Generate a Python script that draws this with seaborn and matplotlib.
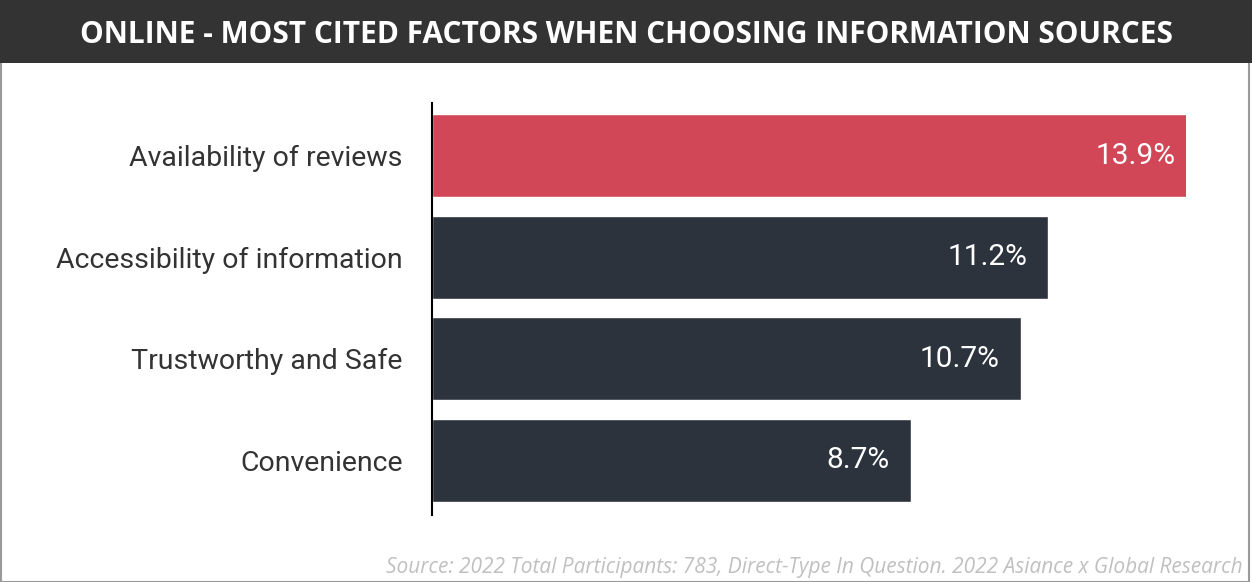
import matplotlib
matplotlib.use("Agg")
import matplotlib.pyplot as plt
import seaborn as sns
import pandas as pd
from matplotlib.patches import Rectangle

categories = ["Availability of reviews", "Accessibility of information",
              "Trustworthy and Safe", "Convenience"]
values = [13.9, 11.2, 10.7, 8.7]
bar_colors = ["#D14757", "#2C333D", "#2C333D", "#2C333D"]
value_labels = ["13.9%", "11.2%", "10.7%", "8.7%"]
title = "ONLINE - MOST CITED FACTORS WHEN CHOOSING INFORMATION SOURCES"
source = "Source: 2022 Total Participants: 783, Direct-Type In Question. 2022 Asiance x Global Research"

sns.set_theme(style="white")
plt.rcParams['font.family'] = ['Roboto', 'DejaVu Sans']

W, H = 1252, 582
fig = plt.figure(figsize=(W / 100, H / 100), dpi=100)
fig.patch.set_facecolor("white")

# border and title bar
fig.add_artist(Rectangle((0.5 / W, 0.5 / H), 1 - 3.5 / W, 1 - 2.5 / H, transform=fig.transFigure,
                         fill=False, edgecolor="#9a9a9a", linewidth=1.5))
fig.add_artist(Rectangle((0, 1 - 63 / H), 1, 63 / H, transform=fig.transFigure,
                         facecolor="#333333", edgecolor="none"))
fig.text(626 / W, 1 - 43 / H, title, color="white", fontsize=21.5, fontweight="bold",
         family=["Open Sans", "DejaVu Sans"], ha="center", va="baseline")

left, right = 432 / W, 1186 / W
top, bottom = 1 - 103 / H, 1 - 515 / H
ax = fig.add_axes([left, bottom, right - left, top - bottom])

df = pd.DataFrame({"category": categories, "value": values})
sns.barplot(data=df, x="value", y="category", hue="category", palette=bar_colors,
            legend=False, width=0.82, ax=ax, saturation=1)

ax.set_xlim(0, 13.7)
ax.set_ylim(3.54, -0.52)
ax.set_xlabel("")
ax.set_ylabel("")
ax.set_xticks([])
for s in ["top", "right", "bottom"]:
    ax.spines[s].set_visible(False)
ax.spines["left"].set_color("black")
ax.spines["left"].set_linewidth(1.5)
ax.tick_params(axis="y", length=0, pad=21, labelsize=20.5, labelcolor="#333333")
ax.set_facecolor("white")

for i, (v, lab) in enumerate(zip(values, value_labels)):
    ax.annotate(lab, xy=(v, i), xytext=(-21, 0), textcoords="offset pixels",
                ha="right", va="center", color="white", fontsize=21.5,
                annotation_clip=False)

fig.text(1243 / W, 1 - 568 / H, source, color="#c0c0c0", fontsize=15, style="italic",
         family=["Open Sans", "DejaVu Sans"], ha="right", va="center")

fig.savefig("out.png", dpi=100, facecolor="white")
